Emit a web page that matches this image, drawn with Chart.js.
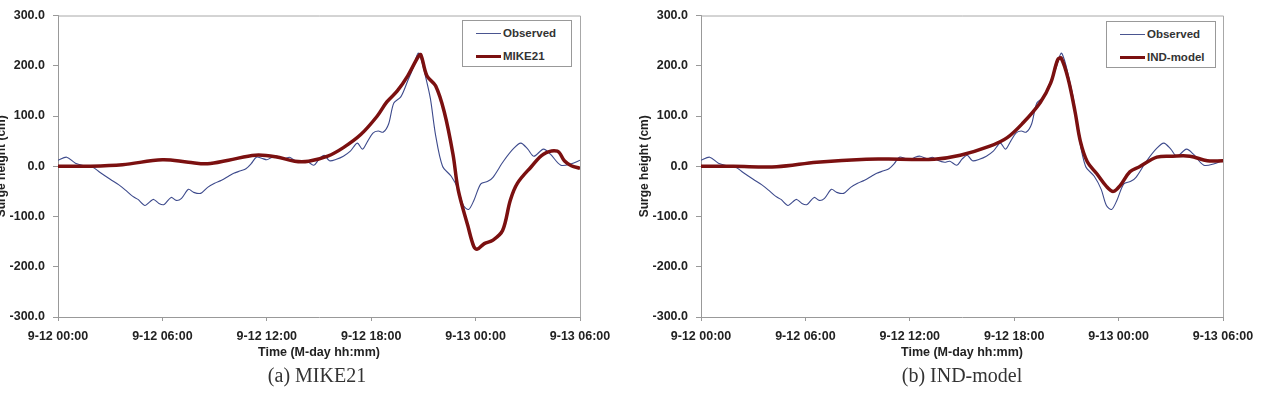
<!DOCTYPE html>
<html>
<head>
<meta charset="utf-8">
<script src="https://cdn.jsdelivr.net/npm/chart.js@4.4.0/dist/chart.umd.min.js"></script>
<style>
    body { margin: 0; background: #fff; width: 1262px; height: 395px; overflow: hidden; position: relative; font-family: "Liberation Sans", Arial, sans-serif; }
    .box { position: absolute; top: 0; width: 632px; height: 395px; }
    .caption { position: absolute; top: 364px; width: 300px; text-align: center; font-family: "Liberation Serif", "Times New Roman", serif; font-size: 20px; color: #333; }
    .legend { position: absolute; width: 108px; height: 45px; border: 1px solid #999; background: #fff; font-size: 11.5px; font-weight: bold; color: #333; }
    .legend .row { position: absolute; left: 13px; height: 12px; line-height: 12px; white-space: nowrap; }
    .legend .sample { display: inline-block; width: 25px; vertical-align: middle; margin-right: 2px; }
</style>
</head>
<body>
<div class="box" style="left:-13px"><canvas id="chartA" width="632" height="395"></canvas></div>
<div class="box" style="left:630px"><canvas id="chartB" width="632" height="395"></canvas></div>

<div class="legend" style="left:462px; top:20px">
    <div class="row" style="top:6px"><span class="sample" style="border-top:1px solid #4a5590"></span>Observed</div>
    <div class="row" style="top:29px"><span class="sample" style="border-top:3px solid #7b1010"></span>MIKE21</div>
</div>
<div class="legend" style="left:1106px; top:21px">
    <div class="row" style="top:6px"><span class="sample" style="border-top:1px solid #4a5590"></span>Observed</div>
    <div class="row" style="top:29px"><span class="sample" style="border-top:3px solid #7b1010"></span>IND-model</div>
</div>

<div class="caption" style="left:167px">(a) MIKE21</div>
<div class="caption" style="left:812px">(b) IND-model</div>

<script>
// 刻度标签 (每6小时)
const tickLabels = ['9-12 00:00', '9-12 06:00', '9-12 12:00', '9-12 18:00', '9-13 00:00', '9-13 06:00'];

// 实测值 (小时, cm)
const obsHours = [0, 0.5, 1.0, 1.5, 2.0, 2.4, 3.0, 3.5, 3.9, 4.3, 4.6, 5.0, 5.3, 5.5, 5.8, 6.1, 6.5, 6.8, 7.1, 7.5,
    7.8, 8.2, 8.6, 9.0, 9.4, 9.8, 10.1, 10.5, 10.8, 11.1, 11.4, 11.7, 12.0, 12.3, 12.6, 13.0, 13.3, 13.6, 14.0, 14.3,
    14.7, 15.0, 15.3, 15.6, 16.0, 16.4, 16.8, 17.2, 17.5, 17.8, 18.1, 18.4, 18.7, 19.0, 19.3, 19.7, 20.1, 20.4, 20.7, 20.9,
    21.1, 21.4, 21.7, 22.1, 22.6, 23.0, 23.3, 23.6, 23.9, 24.3, 24.7, 25.0, 25.6, 26.2, 26.6, 27.0, 27.35, 27.9, 28.3, 28.9,
    29.5, 30];
const obsValues = [12, 18, 6, 1, -2, -12, -26, -37, -48, -60, -66, -78, -70, -66, -74, -76, -62, -68, -64, -46,
    -52, -54, -42, -34, -28, -20, -14, -9, -5, 5, 18, 16, 13, 18, 20, 15, 18, 12, 8, 10,
    2, 14, 22, 11, 14, 20, 30, 46, 34, 50, 66, 70, 68, 84, 126, 138, 170, 195, 225, 210,
    182, 135, 62, 0, -20, -46, -78, -86, -68, -35, -30, -22, 10, 36, 46, 34, 20, 34, 24, 2,
    5, 12];

// MIKE21 计算值
const mikeHours = [0, 1.7, 3.7, 6.0, 7.5, 8.6, 9.8, 11.35, 12.5, 13.6, 14.4, 15.5, 16.4, 17.4, 18.35, 18.9, 19.5, 20.1,
    20.7, 20.85, 21.2, 21.7, 22.2, 22.7, 23.0, 23.55, 23.9, 24.1, 24.5, 25.0, 25.55, 26.0, 26.4, 27.2, 27.9, 28.7,
    29.1, 29.5, 30];
const mikeValues = [0, 0, 3, 13, 8, 5, 12, 22, 19, 10, 10, 20, 37, 63, 100, 128, 150, 180,
    218, 222, 180, 160, 108, 24, -47, -118, -160, -165, -154, -147, -128, -67, -34, -1, 24, 30,
    11, 1, -4];

// IND-model 计算值
const indHours = [0, 1.85, 4.35, 6.65, 9.5, 11.45, 13.4, 14.9, 16.6, 17.6, 18.5, 19.5, 20.1, 20.5, 20.7, 21.1, 21.5,
    21.8, 22.2, 22.75, 23.3, 23.7, 24.1, 24.65, 25.2, 26.2, 27.1, 28.1, 29.1, 30];
const indValues = [0, 0, -1, 8, 14, 14, 14, 22, 40, 57, 86, 127, 166, 212, 215, 174, 108,
    50, 9, -15, -40, -50, -38, -11, -1, 18, 20, 20, 11, 11];

const toPoints = (xs, ys) => xs.map((x, i) => ({ x: x, y: ys[i] }));

// 绘图区外框
const plotBorder = {
    id: 'plotBorder',
    afterDraw(chart) {
        const a = chart.chartArea;
        const ctx = chart.ctx;
        ctx.save();
        ctx.strokeStyle = '#a8a8a8';
        ctx.lineWidth = 1;
        ctx.beginPath();
        ctx.moveTo(a.left, a.top + 0.5);
        ctx.lineTo(a.right + 0.5, a.top + 0.5);
        ctx.lineTo(a.right + 0.5, a.bottom);
        ctx.stroke();
        ctx.restore();
    }
};

function createChart(canvasId, modelLabel, modelHours, modelValues) {
    const tickFont = { family: '"Liberation Sans", Arial, sans-serif', weight: 'bold' };
    return new Chart(document.getElementById(canvasId), {
        type: 'line',
        data: {
            datasets: [
                {
                    label: modelLabel,
                    data: toPoints(modelHours, modelValues),
                    borderColor: '#7b1010',
                    borderWidth: 3.5,
                    pointRadius: 0,
                    tension: 0.35
                },
                {
                    label: 'Observed',
                    data: toPoints(obsHours, obsValues),
                    borderColor: '#3d4a8c',
                    borderWidth: 1.1,
                    pointRadius: 0,
                    tension: 0.3
                }
            ]
        },
        options: {
            responsive: false,
            animation: false,
            layout: { padding: { top: 8, right: 39, left: 0, bottom: 0 } },
            plugins: {
                legend: { display: false },
                tooltip: { enabled: false }
            },
            scales: {
                x: {
                    type: 'linear',
                    min: 0,
                    max: 30,
                    afterFit: s => { s.height = 78; },
                    ticks: {
                        stepSize: 6,
                        autoSkip: false,
                        maxRotation: 0,
                        padding: 8,
                        color: '#222',
                        font: { ...tickFont, size: 12.5 },
                        callback: v => tickLabels[v / 6]
                    },
                    grid: { drawOnChartArea: false, tickLength: 4, color: '#999' },
                    border: { color: '#999', width: 1 },
                    title: {
                        display: true,
                        text: 'Time (M-day hh:mm)',
                        color: '#222',
                        font: { ...tickFont, size: 12.5 },
                        padding: { top: 0, bottom: 35 }
                    }
                },
                y: {
                    min: -300,
                    max: 300,
                    afterFit: s => { s.width = 71; },
                    ticks: {
                        stepSize: 100,
                        padding: 8,
                        color: '#222',
                        font: { ...tickFont, size: 12.5 },
                        callback: v => v.toFixed(1)
                    },
                    grid: { drawOnChartArea: false, tickLength: 5, color: '#999' },
                    border: { color: '#999', width: 1 },
                    title: {
                        display: true,
                        text: 'Surge height (cm)',
                        color: '#222',
                        font: { ...tickFont, size: 12 },
                        padding: { top: 7, bottom: 0 }
                    }
                }
            }
        },
        plugins: [plotBorder]
    });
}

createChart('chartA', 'MIKE21', mikeHours, mikeValues);
createChart('chartB', 'IND-model', indHours, indValues);
</script>
</body>
</html>
